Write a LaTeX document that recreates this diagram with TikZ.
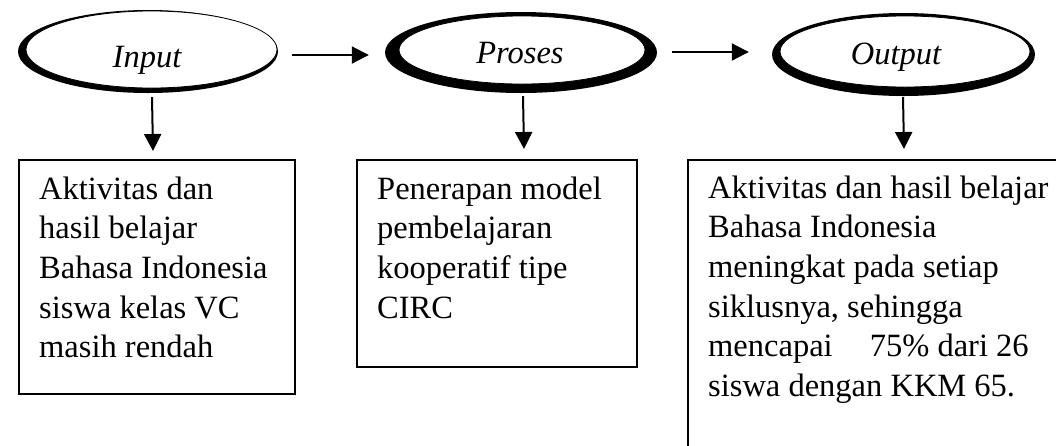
\documentclass[tikz,border=0pt]{standalone}
\usepackage{fontspec}
\setmainfont{Liberation Serif}
\usetikzlibrary{shapes.geometric,arrows.meta,calc}
\begin{document}
\begin{tikzpicture}[x=1pt,y=-1pt,
  shadowell/.style={ellipse, fill=black, draw=none, inner sep=0pt},
  innerell/.style={ellipse, fill=white, draw=black, line width=0.8pt, inner sep=0pt},
  lbl/.style={anchor=base, inner sep=0pt, font=\fontsize{32.5}{37}\selectfont\itshape},
  boxn/.style={draw=black, line width=2pt, anchor=north west, inner sep=0pt},
  txt/.style={anchor=base west, inner sep=0pt, font=\fontsize{32.5}{39.7}\selectfont},
  arr/.style={line width=2pt, -{Triangle[length=17pt,width=17pt]}}]
\clip (0,0) rectangle (1056,445);
\useasboundingbox (0,0) rectangle (1056,445);
\fill[white] (0,0) rectangle (1056,445);
% ellipses
\node[shadowell, minimum width=260pt, minimum height=83pt] (in) at (148,51.5) {};
\node[innerell, minimum width=251pt, minimum height=77pt] (inI) at (151.5,49.5) {};
\node[lbl] (inT) at (147,67) {Input};
\node[shadowell, minimum width=272pt, minimum height=81pt] (pr) at (521,52.5) {};
\node[innerell, minimum width=246pt, minimum height=68pt] (prI) at (522,50) {};
\node[lbl] (prT) at (520,63) {Proses};
\node[shadowell, minimum width=263pt, minimum height=83pt] (out) at (903.5,54.5) {};
\node[innerell, minimum width=250pt, minimum height=71pt] (outI) at (905,51.5) {};
\node[lbl] (outT) at (896,64) {Output};
% boxes
\node[boxn, minimum width=276pt, minimum height=234pt] (b1) at (18,159) {};
\node[boxn, minimum width=280pt, minimum height=207pt] (b2) at (356,159) {};
\node[boxn, minimum width=383pt, minimum height=301pt] (b3) at (687,159) {};
\node[txt] (t1) at (39,199) {\parbox[t]{250pt}{\raggedright Aktivitas dan\\hasil belajar\\Bahasa Indonesia\\siswa kelas VC\\masih rendah}};
\node[txt] (t2) at (377,199) {\parbox[t]{250pt}{\raggedright Penerapan model\\pembelajaran\\kooperatif tipe\\CIRC}};
\node[txt] (t3) at (708,198) {\parbox[t]{360pt}{\raggedright Aktivitas dan hasil belajar\\Bahasa Indonesia\\meningkat pada setiap\\siklusnya, sehingga\\mencapai\hspace*{29pt} 75\% dari 26\\siswa dengan KKM 65.}};
% arrows
\draw[arr] ($(in.east)+(14,3.5)$) -- ($(pr.west)+(-16,2.5)$);
\draw[arr] ($(pr.east)+(15,-0.5)$) -- ($(out.west)+(-23,-2.5)$);
\draw[arr] ($(in.south)+(4,4)$) -- ($(b1.north)+(-4,-8)$);
\draw[arr] ($(pr.south)+(2,3)$) -- ($(b2.north)+(27,-10)$);
\draw[arr] ($(out.south)+(-0.5,1)$) -- ($(b3.north)+(24.5,-10)$);
\end{tikzpicture}
\end{document}
